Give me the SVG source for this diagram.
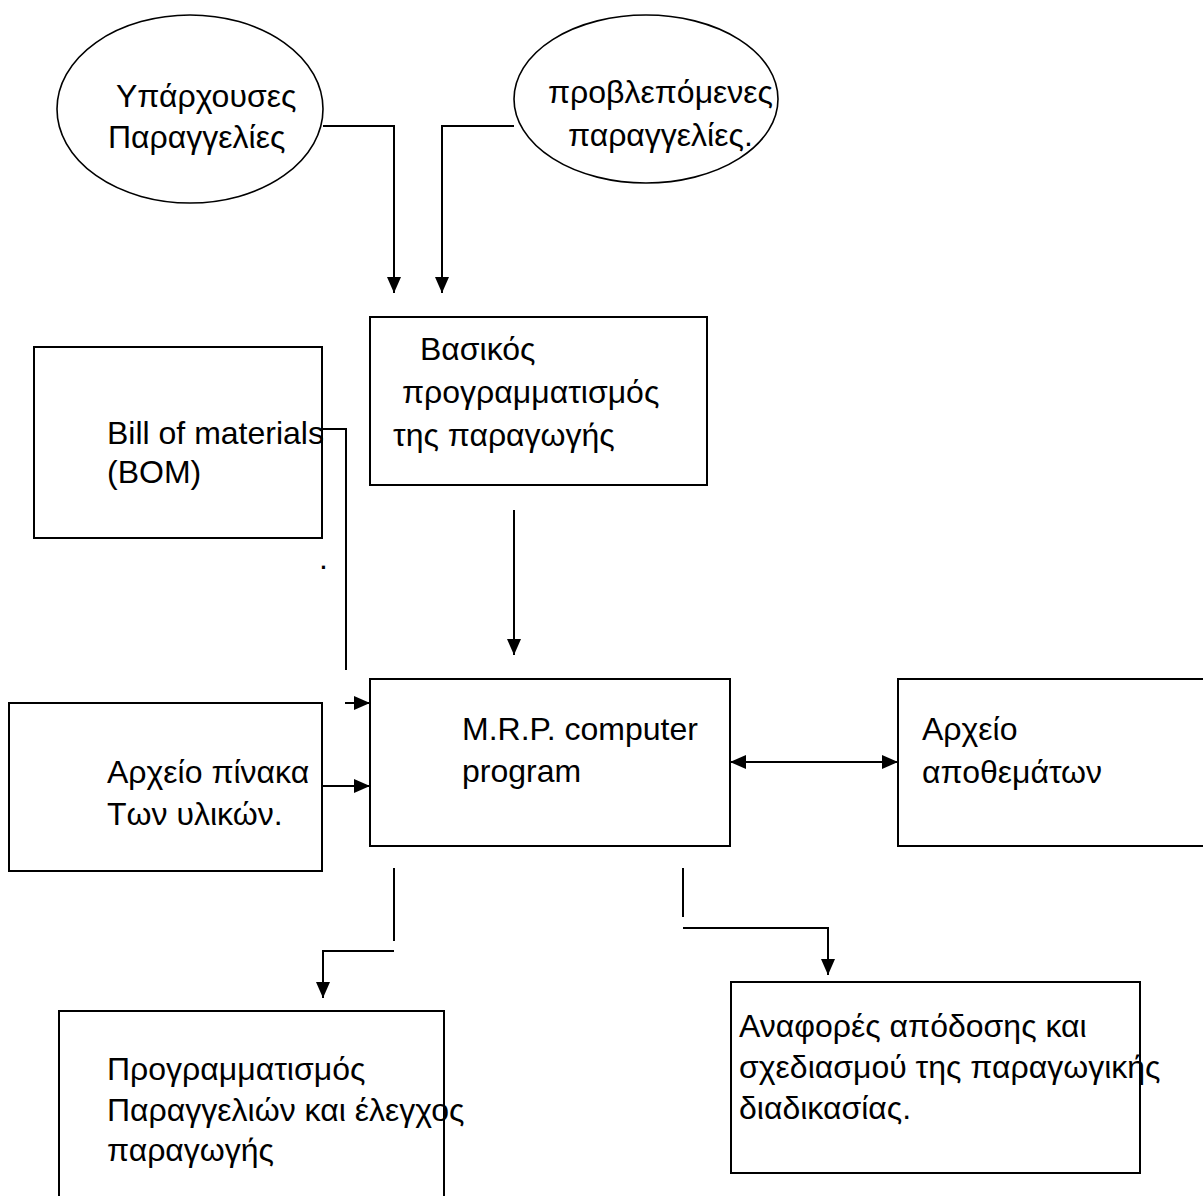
<svg xmlns="http://www.w3.org/2000/svg" width="1203" height="1196" viewBox="0 0 1203 1196">
  <style>
    .box { fill: #ffffff; stroke: #000000; stroke-width: 2; }
    .ell { fill: #ffffff; stroke: #000000; stroke-width: 1.6; }
    .lbl { font-family: "Liberation Sans", Arial, sans-serif; font-size: 32px; fill: #000000; }
    .con { fill: none; stroke: #000000; stroke-width: 2; }
    .arr { marker-end: url(#head); }
  </style>
  <defs>
    <marker id="head" markerUnits="userSpaceOnUse" markerWidth="16" markerHeight="14" refX="16" refY="7" orient="auto-start-reverse">
      <path d="M0,0 L16,7 L0,14 Z" fill="#000000"/>
    </marker>
  </defs>
  <rect x="0" y="0" width="1203" height="1196" fill="#ffffff"/>

  <g id="node-yparxouses">
    <ellipse class="ell" cx="190" cy="109" rx="133" ry="94"/>
    <text class="lbl" x="116" y="107">Υπάρχουσες</text>
    <text class="lbl" x="108" y="148">Παραγγελίες</text>
  </g>

  <g id="node-provlepomenes">
    <ellipse class="ell" cx="646" cy="99" rx="132" ry="84"/>
    <text class="lbl" x="548" y="103">προβλεπόμενες</text>
    <text class="lbl" x="568" y="146">παραγγελίες.</text>
  </g>

  <g id="node-vasikos">
    <rect class="box" x="370" y="317" width="337" height="168"/>
    <text class="lbl" x="420" y="360">Βασικός</text>
    <text class="lbl" x="402" y="403">προγραμματισμός</text>
    <text class="lbl" x="393" y="446">της παραγωγής</text>
  </g>

  <g id="node-bom">
    <rect class="box" x="34" y="347" width="288" height="191"/>
    <text class="lbl" x="107" y="444">Bill of materials</text>
    <text class="lbl" x="107" y="483">(BOM)</text>
    <text class="lbl" x="319" y="569">.</text>
  </g>

  <g id="node-mrp">
    <rect class="box" x="370" y="679" width="360" height="167"/>
    <text class="lbl" x="462" y="740">M.R.P. computer</text>
    <text class="lbl" x="462" y="782">program</text>
  </g>

  <g id="node-arxeio-pinaka">
    <rect class="box" x="9" y="703" width="313" height="168"/>
    <text class="lbl" x="107" y="783">Αρχείο πίνακα</text>
    <text class="lbl" x="107" y="825">Των υλικών.</text>
  </g>

  <g id="node-apothemata">
    <rect class="box" x="898" y="679" width="320" height="167"/>
    <text class="lbl" x="922" y="740">Αρχείο</text>
    <text class="lbl" x="922" y="783">αποθεμάτων</text>
  </g>

  <g id="node-programmatismos">
    <rect class="box" x="59" y="1011" width="385" height="200"/>
    <text class="lbl" x="107" y="1080">Προγραμματισμός</text>
    <text class="lbl" x="107" y="1121">Παραγγελιών και έλεγχος</text>
    <text class="lbl" x="107" y="1161">παραγωγής</text>
  </g>

  <g id="node-anafores">
    <rect class="box" x="731" y="982" width="409" height="191"/>
    <text class="lbl" x="739" y="1037">Αναφορές απόδοσης και</text>
    <text class="lbl" x="739" y="1078">σχεδιασμού της παραγωγικής</text>
    <text class="lbl" x="739" y="1119">διαδικασίας.</text>
  </g>

  <g id="connectors">
    <polyline class="con arr" points="323,126 394,126 394,293"/>
    <polyline class="con arr" points="514,126 442,126 442,293"/>
    <polyline class="con" points="322,429 346,429 346,670"/>
    <line class="con arr" x1="514" y1="510" x2="514" y2="655"/>
    <line class="con arr" x1="345" y1="703" x2="370" y2="703"/>
    <line class="con arr" x1="323" y1="786" x2="370" y2="786"/>
    <line class="con arr" x1="730" y1="762" x2="898" y2="762" marker-start="url(#head)"/>
    <line class="con" x1="394" y1="868" x2="394" y2="941"/>
    <polyline class="con arr" points="394,951 323,951 323,998"/>
    <line class="con" x1="683" y1="868" x2="683" y2="917"/>
    <polyline class="con arr" points="683,928 828,928 828,975"/>
  </g>
</svg>
